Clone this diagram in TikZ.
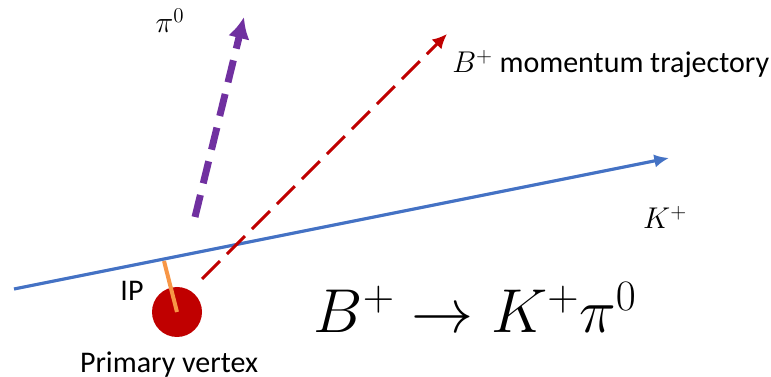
\RequirePackage{fix-cm}
\documentclass[tikz,border=0pt]{standalone}
\usepackage{fontspec}
\setmainfont{Carlito}
\usepackage{amsmath}
\usepackage{xcolor}
\usetikzlibrary{arrows.meta}

\definecolor{kblue}{RGB}{68,114,196}
\definecolor{bred}{RGB}{192,0,0}
\definecolor{ppurple}{RGB}{112,48,160}
\definecolor{iporange}{RGB}{247,150,70}

\begin{document}
\begin{tikzpicture}[
      x=0.75pt, y=-0.75pt,
      trk/.style={line width=2.4pt, kblue, -{Latex[length=11pt, width=10pt]}},
      bmom/.style={line width=2.2pt, bred, dash pattern=on 19pt off 7.5pt, -{Latex[length=11pt, width=10.5pt]}},
      pion/.style={line width=5.2pt, ppurple, dash pattern=on 17pt off 9pt, -{Latex[length=16pt, width=16.5pt]}},
      ipline/.style={line width=3pt, iporange},
      lab/.style={font=\fontsize{22.5}{26}\selectfont, inner sep=0pt}]
    \useasboundingbox (0,0) rectangle (771,377);
    % track end points
    \coordinate (kst) at (14,289);
    \coordinate (kend) at (669,158);
    \coordinate (bst) at (202,279);
    \coordinate (bend) at (447,34);
    \coordinate (pst) at (195,217);
    \coordinate (pend) at (244,17);
    \coordinate (ipa) at (164,261);
    \node[circle, fill=bred, minimum size=37.5pt, inner sep=0pt] (pv) at (177,312) {};
    \draw[trk] (kst) -- (kend);
    \draw[bmom] (bst) -- (bend);
    \draw[pion] (pst) -- (pend);
    \draw[ipline] (ipa) -- (pv.center);
    % labels
    \node[lab, anchor=base] (pilab) at (170,33) {$\pi^0$};
    \node[lab, anchor=base west] (blab) at (452,73) {$B^+$ momentum trajectory};
    \node[lab, anchor=base] (klab) at (665,229) {$K^+$};
    \node[lab, anchor=base] (iplab) at (132,301) {IP};
    \node[lab, anchor=base] (pvlab) at (169,373) {Primary vertex};
    \node[inner sep=0pt, anchor=base, font=\fontsize{46.5}{54}\selectfont] (decay) at (475,333) {$B^+ \to K^+\pi^0$};
  \end{tikzpicture}
\end{document}
